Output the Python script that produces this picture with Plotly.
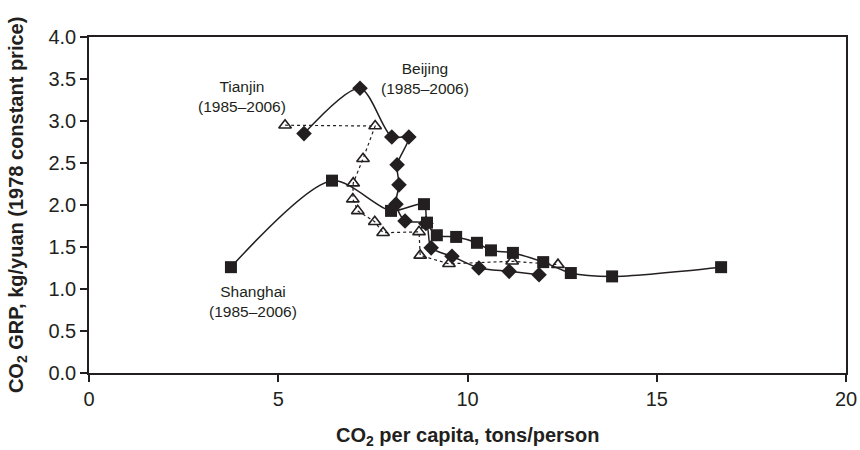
import plotly.graph_objects as go

# Beijing (filled diamonds, smooth solid line)
beijing_x = [5.68, 7.16, 8.00, 8.45, 8.14, 8.19, 8.11, 8.35, 8.90, 9.04, 9.59, 10.30, 11.10, 11.89]
beijing_y = [2.85, 3.39, 2.81, 2.81, 2.48, 2.24, 2.01, 1.81, 1.78, 1.49, 1.39, 1.25, 1.21, 1.17]

# Shanghai (filled squares, smooth solid line)
shanghai_x = [3.75, 6.42, 7.98, 8.85, 8.93, 9.19, 9.70, 10.25, 10.62, 11.20, 12.00, 12.73, 13.82, 16.70]
shanghai_y = [1.26, 2.29, 1.93, 2.01, 1.79, 1.64, 1.62, 1.55, 1.46, 1.43, 1.32, 1.19, 1.15, 1.26]

# Tianjin (open triangles, dotted line)
tianjin_x = [5.18, 7.56, 7.24, 6.98, 6.97, 7.10, 7.55, 7.77, 8.72, 8.75, 9.51, 11.18, 12.39]
tianjin_y = [2.95, 2.94, 2.55, 2.26, 2.07, 1.93, 1.80, 1.67, 1.68, 1.40, 1.30, 1.33, 1.29]

x_ticks = [0, 5, 10, 15, 20]
y_ticks = [0.0, 0.5, 1.0, 1.5, 2.0, 2.5, 3.0, 3.5, 4.0]

x_title = "<b>CO<sub>2</sub> per capita, tons/person</b>"
y_title = "<b>CO<sub>2</sub> GRP, kg/yuan (1978 constant price)</b>"

INK = "#231f20"
FONT = "Liberation Sans, Arial, sans-serif"

fig = go.Figure()

fig.add_trace(go.Scatter(
    x=tianjin_x, y=tianjin_y, mode="lines+markers", name="Tianjin",
    line=dict(color=INK, width=1.2, dash="dot", shape="linear"),
    marker=dict(symbol="triangle-up-open", size=11, color=INK, line=dict(width=1.6, color=INK)),
))
fig.add_trace(go.Scatter(
    x=beijing_x, y=beijing_y, mode="lines+markers", name="Beijing",
    line=dict(color=INK, width=1.5, shape="spline", smoothing=0.8),
    marker=dict(symbol="diamond", size=12, color=INK),
))
fig.add_trace(go.Scatter(
    x=shanghai_x, y=shanghai_y, mode="lines+markers", name="Shanghai",
    line=dict(color=INK, width=1.5, shape="spline", smoothing=0.8),
    marker=dict(symbol="square", size=12, color=INK),
))

ann_font = dict(family=FONT, size=15.5, color=INK)
fig.add_annotation(x=4.04, y=3.29, text="Tianjin<br>(1985–2006)", showarrow=False, font=ann_font)
fig.add_annotation(x=8.88, y=3.51, text="Beijing<br>(1985–2006)", showarrow=False, font=ann_font)
fig.add_annotation(x=4.33, y=0.85, text="Shanghai<br>(1985–2006)", showarrow=False, font=ann_font)

title_font = dict(family=FONT, size=20, color=INK)
fig.add_annotation(xref="paper", yref="paper", x=0.5, y=-0.19, text=x_title,
                   showarrow=False, font=title_font, xanchor="center", yanchor="middle")
fig.add_annotation(xref="paper", yref="paper", x=-0.095, y=0.5, text=y_title, textangle=-90,
                   showarrow=False, font=title_font, xanchor="center", yanchor="middle")

axis_common = dict(
    showgrid=False, zeroline=False, showline=True, linecolor=INK, linewidth=1.5,
    mirror=True, ticks="outside", ticklen=7, tickwidth=1.5, tickcolor=INK,
    tickfont=dict(family=FONT, size=20, color=INK), automargin=False,
)

fig.update_layout(
    width=860, height=450,
    margin=dict(l=89, r=14, t=37, b=77),
    paper_bgcolor="white", plot_bgcolor="white",
    showlegend=False,
    xaxis=dict(range=[0, 20], tickvals=x_ticks, ticktext=[str(v) for v in x_ticks], **axis_common),
    yaxis=dict(range=[0, 4], tickvals=y_ticks, ticktext=[f"{v:.1f}" for v in y_ticks], **axis_common),
)

fig.write_html("out.html")
